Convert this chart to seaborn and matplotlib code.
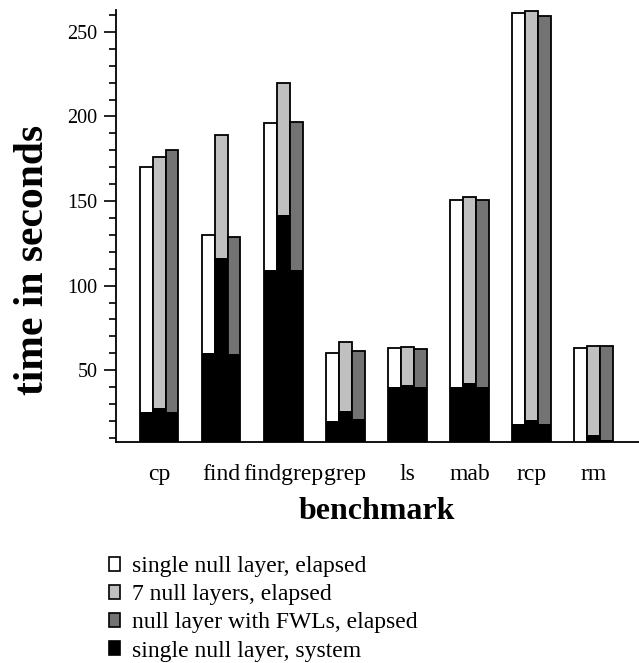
import matplotlib
matplotlib.use("Agg")
import matplotlib.pyplot as plt
from matplotlib.patches import Patch
from matplotlib.ticker import MultipleLocator
import numpy as np
import pandas as pd
import seaborn as sns

benchmarks = ["cp", "find", "findgrep", "grep", "ls", "mab", "rcp", "rm"]
configs = ["single null layer", "7 null layers", "null layer with FWLs"]

elapsed_single = [170, 130, 196, 60, 63, 150.5, 261, 63]
elapsed_seven = [176, 189, 220, 66.7, 63.5, 152.5, 262.2, 64.2]
elapsed_fwl = [180, 129, 197, 61.3, 62.8, 150.7, 259.5, 64.2]

system_single = [25, 60, 109, 20.2, 40.3, 40.2, 18.2, 7]
system_seven = [27.5, 116.5, 141.5, 26, 41, 42.2, 20.6, 11.8]
system_fwl = [25, 59.5, 109, 21.2, 40.3, 40.2, 18.2, 9]

legend_labels = [
    "single null layer, elapsed",
    "7 null layers, elapsed",
    "null layer with FWLs, elapsed",
    "single null layer, system",
]
fills = ["#ffffff", "#c0c0c0", "#737373"]

elapsed = pd.DataFrame({
    "benchmark": benchmarks * 3,
    "config": np.repeat(configs, len(benchmarks)),
    "seconds": elapsed_single + elapsed_seven + elapsed_fwl,
})
system = pd.DataFrame({
    "benchmark": benchmarks * 3,
    "config": np.repeat(configs, len(benchmarks)),
    "seconds": system_single + system_seven + system_fwl,
})

sns.set_style("ticks")
plt.rcParams["font.family"] = ["Liberation Serif", "DejaVu Serif"]
plt.rcParams["text.color"] = "black"
plt.rcParams["axes.labelcolor"] = "black"
plt.rcParams["xtick.color"] = "black"
plt.rcParams["ytick.color"] = "black"
plt.rcParams["axes.edgecolor"] = "black"

fig = plt.figure(figsize=(6.39, 6.63), dpi=100)
ax = fig.add_axes([0.181, 0.334, 0.819, 0.651])

sns.barplot(data=elapsed, x="benchmark", y="seconds", hue="config",
            order=benchmarks, hue_order=configs, palette=fills,
            width=0.62, edgecolor="black", linewidth=1.3, saturation=1,
            errorbar=None, legend=False, ax=ax)
sns.barplot(data=system, x="benchmark", y="seconds", hue="config",
            order=benchmarks, hue_order=configs, palette=["black"] * 3,
            width=0.62, linewidth=0, saturation=1,
            errorbar=None, legend=False, ax=ax)

ax.set_ylim(7.8, 263)
ax.set_xlim(-0.7, 7.73)
ax.yaxis.set_major_locator(MultipleLocator(50))
ax.yaxis.set_minor_locator(MultipleLocator(10))
ax.tick_params(axis="y", which="major", length=9, width=1.2, labelsize=14.5,
               direction="out", pad=4)
ax.tick_params(axis="y", which="minor", length=5, width=1.2)
ax.tick_params(axis="x", length=0, pad=16, labelsize=17)
for side in ("top", "right"):
    ax.spines[side].set_visible(False)
for side in ("left", "bottom"):
    ax.spines[side].set_linewidth(1.3)

ax.set_xlabel("benchmark", fontsize=23, fontweight="bold", labelpad=9)
ax.set_ylabel("time in seconds", fontsize=30, fontweight="bold")
ax.yaxis.set_label_coords(-0.122, 0.42)

handles = [Patch(facecolor=c, edgecolor="black", linewidth=1.2) for c in fills + ["black"]]
fig.legend(handles, legend_labels, loc="upper left", bbox_to_anchor=(0.170, 0.161),
           frameon=False, fontsize=17, handlelength=0.5, handleheight=0.5,
           handletextpad=0.5, labelspacing=0.30, borderaxespad=0, borderpad=0)

fig.savefig("out.png", dpi=100)
